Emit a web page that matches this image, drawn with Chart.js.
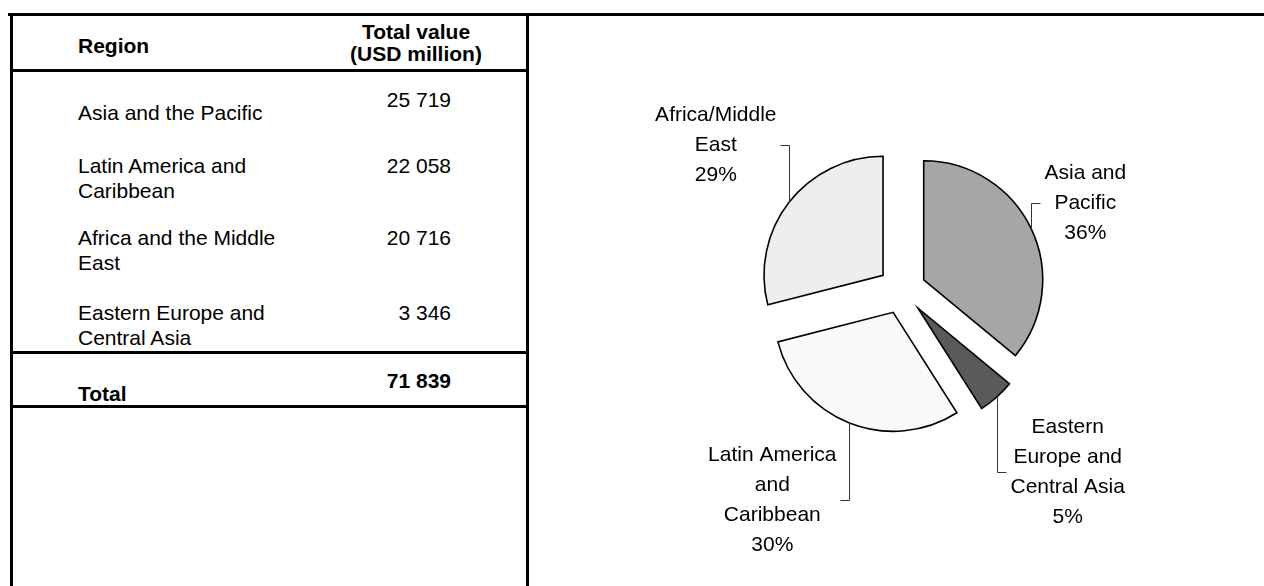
<!DOCTYPE html>
<html>
<head>
<meta charset="utf-8">
<script src="https://cdn.jsdelivr.net/npm/chart.js@4.4.0/dist/chart.umd.min.js"></script>
<style>
  body { margin: 0; background: #fff; font-family: "Liberation Sans", Arial, sans-serif; color: #000; }
  #page { position: relative; width: 1264px; height: 586px; overflow: hidden; }
  .rule { position: absolute; background: #000; }
  .cell { position: absolute; font-size: 21px; line-height: 25px; white-space: nowrap; }
  .name { left: 78px; width: 230px; height: 50px; white-space: normal; display: flex; align-items: center; }
  .num { left: 331px; width: 120px; text-align: right; }
  .bold { font-weight: bold; }
  .head { left: 316px; width: 200px; text-align: center; line-height: 22px; }
  #pieBox { position: absolute; left: 602px; top: 10px; width: 600px; height: 560px; }
</style>
</head>
<body>
<div id="page">
  <div id="table"></div>
  <div id="pieBox"><canvas id="pieChart"></canvas></div>
</div>
<script>
// table data
const regions = ["Asia and the Pacific", "Latin America and Caribbean", "Africa and the Middle East", "Eastern Europe and Central Asia"];
const totals = [25719, 22058, 20716, 3346];
const grandTotal = 71839;

// pie data (clockwise from 12 o'clock)
const pieLabels = [["Asia and", "Pacific"], ["Eastern", "Europe and", "Central Asia"], ["Latin America", "and", "Caribbean"], ["Africa/Middle", "East"]];
const pieShares = [36, 5, 30, 29];
const pieColors = ["#a6a6a6", "#5a5a5a", "#f9f9f9", "#eeeeee"];

const rowTops = [87, 153, 225, 300];
const labelLift = [-26, 75, 77, -57];   // label centre, above/below the leader start
const STUB = 13;
const EXPLODE = 24;
const LINE_H = 30;

function fmt(v) {
    return String(v).replace(/\B(?=(\d{3})+(?!\d))/g, " ");
}

function addDiv(cls, style, text) {
    const d = document.createElement("div");
    d.className = cls;
    Object.assign(d.style, style);
    if (text !== undefined) d.innerHTML = text;
    document.getElementById("table").appendChild(d);
    return d;
}

// rules
addDiv("rule", {left: "8px", top: "13px", width: "1256px", height: "3px"});
addDiv("rule", {left: "10px", top: "13px", width: "3px", height: "573px"});
addDiv("rule", {left: "526px", top: "13px", width: "3px", height: "573px"});
addDiv("rule", {left: "10px", top: "69px", width: "519px", height: "3px"});
addDiv("rule", {left: "10px", top: "351px", width: "519px", height: "3px"});
addDiv("rule", {left: "10px", top: "405px", width: "519px", height: "3px"});

// header
addDiv("cell bold", {left: "78px", top: "33px"}, "Region");
addDiv("cell bold head", {top: "21px"}, "Total value<br>(USD million)");

// rows
regions.forEach((r, i) => {
    addDiv("cell name", {top: rowTops[i] + "px"}, "<span>" + r + "</span>");
    addDiv("cell num", {top: rowTops[i] + "px"}, fmt(totals[i]));
});
addDiv("cell name bold", {top: "368px"}, "<span>Total</span>");
addDiv("cell num bold", {top: "368px"}, fmt(grandTotal));

// pull every slice away from the centre
const explodePlugin = {
    id: "explode",
    afterDatasetUpdate(chart, args) {
        args.meta.data.forEach(arc => {
            const mid = (arc.startAngle + arc.endAngle) / 2;
            arc.x += Math.cos(mid) * EXPLODE;
            arc.y += Math.sin(mid) * EXPLODE;
        });
    }
};

// outside labels with elbow leader lines
const sliceLabels = {
    id: "sliceLabels",
    afterDatasetsDraw(chart) {
        const ctx = chart.ctx;
        const arcs = chart.getDatasetMeta(0).data;
        ctx.save();
        ctx.font = '21px "Liberation Sans", Arial, sans-serif';
        ctx.textAlign = "center";
        ctx.textBaseline = "middle";
        arcs.forEach((arc, i) => {
            const lines = [].concat(chart.data.labels[i], pieShares[i] + "%");
            const mid = (arc.startAngle + arc.endAngle) / 2;
            const ux = Math.cos(mid), uy = Math.sin(mid);
            const R = arc.outerRadius;
            const halfW = Math.max(...lines.map(l => ctx.measureText(l).width)) / 2;
            const halfH = lines.length * LINE_H / 2;

            // leader starts on the rim at the slice's mid angle
            const px = Math.round(arc.x + R * ux) + 0.5;
            const py = arc.y + R * uy;
            const side = ux > 0 ? 1 : -1;
            const cx = px + side * (STUB + halfW);
            const cy = Math.round(py + labelLift[i]) + 0.5;

            ctx.fillStyle = "#000";
            lines.forEach((l, k) => ctx.fillText(l, cx, cy - halfH + LINE_H * (k + 0.5)));

            ctx.strokeStyle = "#333";
            ctx.lineWidth = 1;
            ctx.beginPath();
            ctx.moveTo(px, py);
            ctx.lineTo(px, cy);
            ctx.lineTo(px + side * (STUB - 4), cy);
            ctx.stroke();
        });
        ctx.restore();
    }
};

const ctx = document.getElementById("pieChart").getContext("2d");
const pieChart = new Chart(ctx, {
    type: "pie",
    data: {
        labels: pieLabels,
        datasets: [{
            data: pieShares,
            backgroundColor: pieColors,
            borderColor: "#000",
            borderWidth: 1.6,
            borderJoinStyle: "miter",
        }],
    },
    options: {
        responsive: true,
        maintainAspectRatio: false,
        animation: false,
        events: [],
        radius: 119,
        plugins: {
            legend: { display: false },
            tooltip: { enabled: false },
        },
    },
    plugins: [explodePlugin, sliceLabels],
});
</script>
</body>
</html>
